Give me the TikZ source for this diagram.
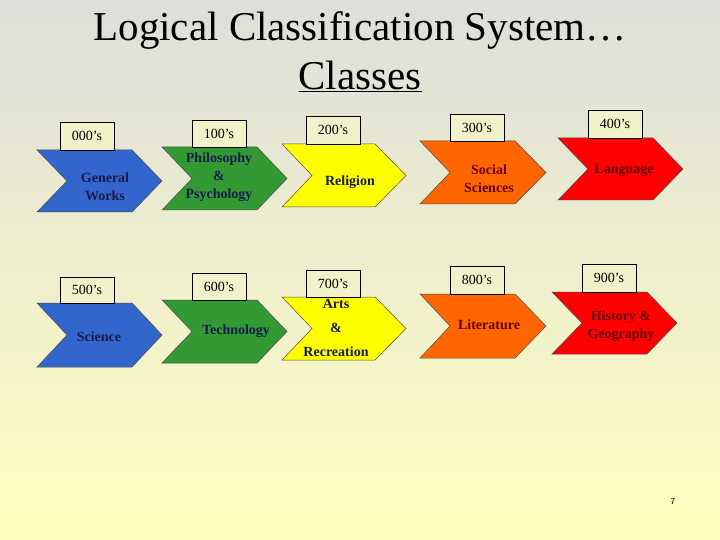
\documentclass[tikz,border=0pt]{standalone}
\usepackage{fontspec}
\setmainfont{Liberation Serif}
\usetikzlibrary{positioning}
\definecolor{cblue}{HTML}{3366CC}
\definecolor{cgreen}{HTML}{339933}
\definecolor{cyellow}{HTML}{FFFF00}
\definecolor{corange}{HTML}{FF6600}
\definecolor{cred}{HTML}{FF0000}
\definecolor{navy}{HTML}{1A1A4D}
\definecolor{dred}{HTML}{660000}
\definecolor{bgtop}{HTML}{DEDEDA}
\definecolor{bgbot}{HTML}{FFFFC0}
\tikzset{
  chevtext/.style={font=\bfseries\fontsize{14}{18}\selectfont, align=center},
  numbox/.style={draw=black, fill=bgtop!40!bgbot, line width=0.6pt},
  numtext/.style={font=\fontsize{14}{16}\selectfont},
}
% #1 left, #2 top, #3 bottom, #4 right, #5 tip, #6 colour
\newcommand{\chevshape}[6]{%
  \filldraw[fill=#6, draw=black!70, line width=0.5pt]
   (#1,#2)--(#4,#2)--(#5,{(#2+#3)/2})--(#4,#3)--(#1,#3)--({#1+30},{(#2+#3)/2})--cycle;}
% #1 x1, #2 y1, #3 x2, #4 y2, #5 name, #6 text
\newcommand{\numbx}[6]{%
  \draw[numbox] (#1,#2) rectangle (#3,#4);
  \node[numtext] (#5) at ({(#1+#3)/2},{(#2+#4)/2}) {#6};}
\begin{document}
\begin{tikzpicture}[x=1pt,y=-1pt]
\shade[top color=bgtop, bottom color=bgbot] (0,0) rectangle (720,540);
\useasboundingbox (0,0) rectangle (720,540);
\node[font=\fontsize{41}{44}\selectfont] (t1) at (360,30) {Logical Classification System…};
\node[font=\fontsize{41}{44}\selectfont] (t2) at (360,76) {\underline{Classes}};
% row 1
\chevshape{37}{150}{212}{132}{162}{cblue}
\numbx{60}{122}{114}{150}{n0}{000’s}
\node[chevtext, text=navy] (c0) at (105,187) {General\\Works};
\chevshape{162}{147}{210}{257}{287}{cgreen}
\numbx{192}{120}{246}{147}{n1}{100’s}
\node[chevtext, text=navy, inner sep=0pt] (c1) at (219,177) {Philosophy\\\&\\Psychology};
\chevshape{282}{144}{207}{375}{406}{cyellow}
\numbx{306}{116}{360}{144}{n2}{200’s}
\node[chevtext, text=navy] (c2) at (350,182) {Religion};
\chevshape{420}{141}{204}{515}{546}{corange}
\numbx{450}{114}{504}{141}{n3}{300’s}
\node[chevtext, text=dred] (c3) at (489,179) {Social\\Sciences};
\chevshape{558}{138}{200}{653}{683}{cred}
\numbx{588}{110}{642}{138}{n4}{400’s}
\node[chevtext, text=dred] (c4) at (624,170) {Language};
% row 2
\chevshape{37}{303}{367}{132}{162}{cblue}
\numbx{60}{277}{114}{303}{n5}{500’s}
\node[chevtext, text=navy] (c5) at (99,337) {Science};
\chevshape{162}{300}{363}{257}{287}{cgreen}
\numbx{192}{273}{246}{300}{n6}{600’s}
\node[chevtext, text=navy] (c6) at (236,331) {Technology};
\chevshape{282}{297}{360}{375}{406}{cyellow}
\numbx{306}{270}{360}{297}{n7}{700’s}
\node[chevtext, text=navy, inner sep=0pt, font=\bfseries\fontsize{14}{24}\selectfont] (c7) at (336,328) {Arts\\\&\\Recreation};
\chevshape{420}{294}{358}{515}{546}{corange}
\numbx{450}{266}{504}{294}{n8}{800’s}
\node[chevtext, text=dred] (c8) at (489,325) {Literature};
\chevshape{552}{292}{354}{647}{677}{cred}
\numbx{582}{264}{636}{292}{n9}{900’s}
\node[chevtext, text=dred] (c9) at (621,326) {History \&\\Geography};
\node[font=\sffamily\fontsize{9}{10}\selectfont] (pg) at (673,502) {7};
\end{tikzpicture}
\end{document}
